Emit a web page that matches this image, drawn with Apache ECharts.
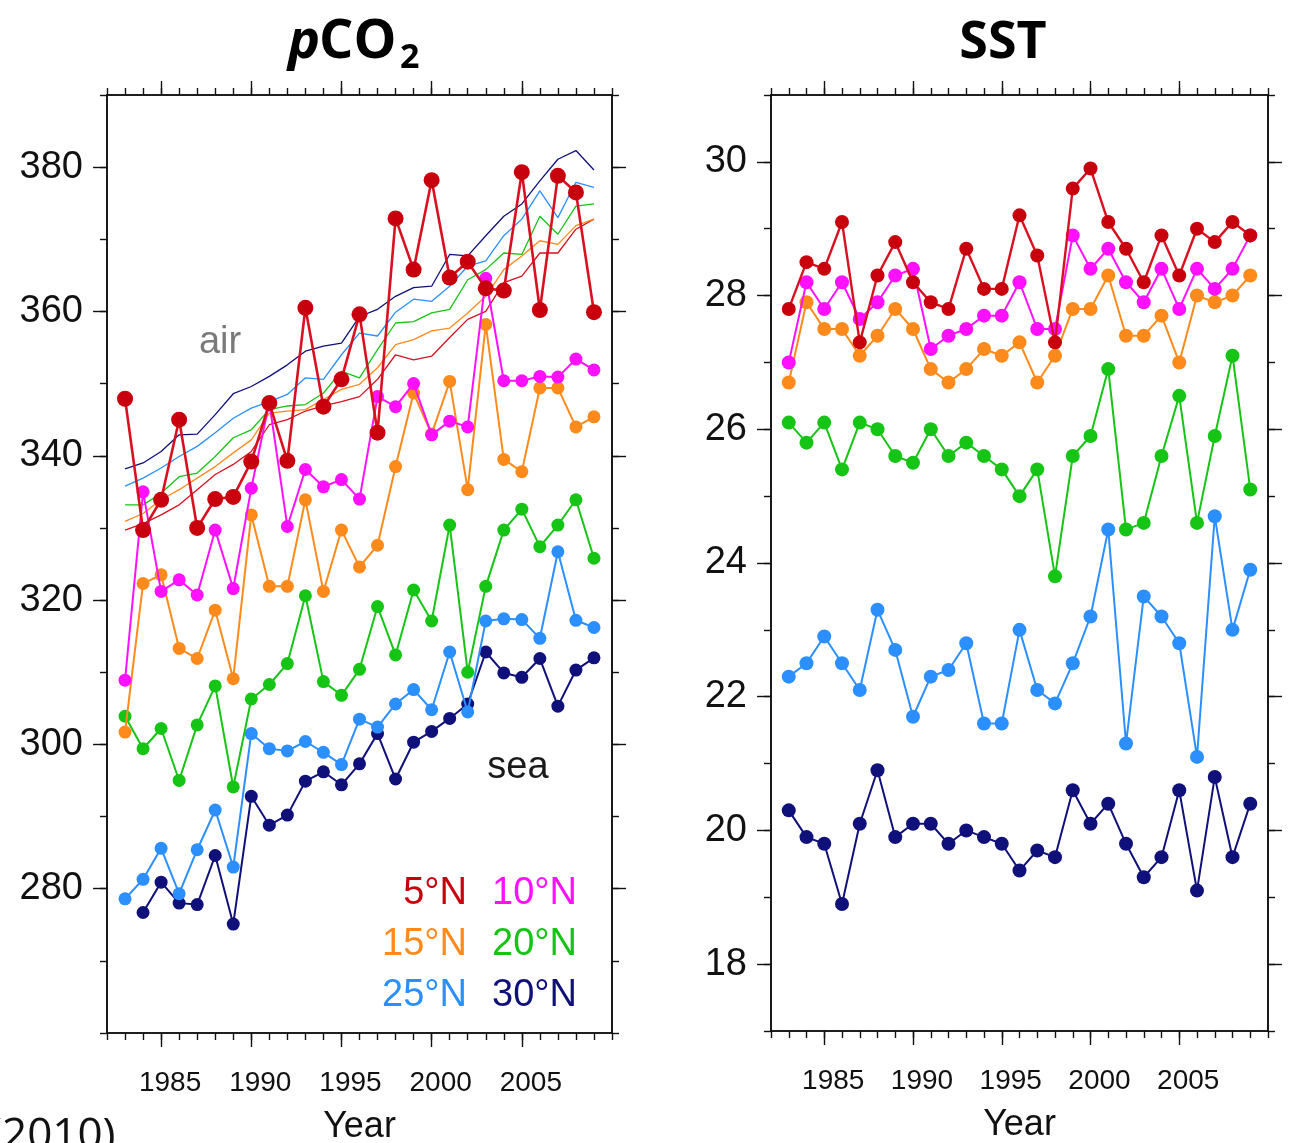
<!DOCTYPE html>
<html>
<head>
<meta charset="utf-8">
<script src="https://cdn.jsdelivr.net/npm/echarts@6/dist/echarts.min.js"></script>
<style>
html,body{margin:0;padding:0;background:#fff;}
#c{width:1292px;height:1143px;}
</style>
</head>
<body>
<div id="c"></div>
<script>
// ---------- data ----------
const years = [1983,1984,1985,1986,1987,1988,1989,1990,1991,1992,1993,1994,1995,1996,1997,1998,1999,2000,2001,2002,2003,2004,2005,2006,2007,2008,2009];
const yearTicks = [1985,1990,1995,2000,2005];
const pco2Ticks = [280,300,320,340,360,380];
const sstTicks = [18,20,22,24,26,28,30];
const siteNames = ['5°N','10°N','15°N','20°N','25°N','30°N'];

// sea pCO2 (µatm)
const sea5  = [347.9,329.7,333.9,345.0,330.0,334.0,334.3,339.2,347.3,339.3,360.5,346.8,350.6,359.6,343.2,372.9,365.8,378.2,364.7,366.9,363.2,362.9,379.3,360.2,378.8,376.5,359.9];
const sea10 = [308.9,335.0,321.2,322.8,320.7,329.7,321.6,335.5,347.4,330.2,338.1,335.7,336.7,334.0,348.2,346.8,350.0,342.9,344.8,344.0,364.6,350.4,350.4,351.0,350.9,353.4,351.9];
const sea15 = [301.7,322.3,323.5,313.3,311.9,318.6,309.1,331.8,321.9,321.9,333.9,321.2,329.7,324.6,327.6,338.5,348.7,343.0,350.3,335.3,358.2,339.5,337.8,349.4,349.4,344.0,345.4];
const sea20 = [303.9,299.4,302.2,295.0,302.7,308.1,294.1,306.3,308.3,311.2,320.6,308.7,306.8,310.4,319.1,312.4,321.4,317.1,330.4,310.0,321.9,329.7,332.6,327.4,330.4,333.9,325.8];
const sea25 = [278.6,281.3,285.6,279.3,285.4,290.9,283.0,301.5,299.4,299.1,300.4,298.9,297.2,303.5,302.4,305.6,307.6,304.8,312.8,304.5,317.1,317.4,317.3,314.7,326.7,317.2,316.2];
const sea30 = [null,276.7,280.9,278.0,277.8,284.6,275.1,292.8,288.8,290.2,294.9,296.2,294.4,297.3,301.5,295.2,300.3,301.8,303.6,305.6,312.8,309.9,309.3,311.9,305.3,310.3,312.0];

// air pCO2 (µatm)
const air30 = [338.2,339.0,340.6,342.9,343.0,345.7,348.6,349.6,351.0,352.6,354.5,355.2,355.6,359.3,360.3,362.1,363.3,363.5,367.9,367.7,370.5,373.2,374.9,378.1,381.1,382.3,379.6];
const air25 = [335.8,336.9,338.3,339.9,341.3,343.2,345.2,346.6,347.5,348.5,350.8,350.6,354.0,357.0,356.6,359.9,361.7,361.4,363.5,366.3,367.0,370.5,372.8,376.7,373.0,377.9,377.2];
const air20 = [333.2,333.2,334.8,337.1,337.6,339.9,342.5,343.6,346.4,346.9,347.1,348.7,351.7,350.8,354.7,358.4,358.6,359.8,360.3,364.4,365.8,368.1,367.9,373.2,370.7,374.6,374.9];
const air15 = [330.9,332.0,333.9,335.3,336.9,338.5,340.4,342.2,345.9,346.2,346.4,347.8,349.2,349.9,352.2,355.4,356.1,357.3,357.7,359.8,362.1,365.8,367.7,369.8,369.3,371.9,372.8];
const air5  = [329.7,330.6,331.8,333.2,335.3,337.4,338.8,340.6,344.3,345.0,346.2,346.9,347.5,348.2,350.6,354.0,353.3,353.8,356.4,358.9,360.0,364.0,364.9,368.1,368.1,371.4,372.8];

// SST (°C)
const sst5  = [27.8,28.5,28.4,29.1,27.3,28.3,28.8,28.2,27.9,27.8,28.7,28.1,28.1,29.2,28.6,27.3,29.6,29.9,29.1,28.7,28.2,28.9,28.3,29.0,28.8,29.1,28.9];
const sst10 = [27.0,28.2,27.8,28.2,27.65,27.9,28.3,28.4,27.2,27.4,27.5,27.7,27.7,28.2,27.5,27.5,28.9,28.4,28.7,28.2,27.9,28.4,27.8,28.4,28.1,28.4,28.9];
const sst15 = [26.7,27.9,27.5,27.5,27.1,27.4,27.8,27.5,26.9,26.7,26.9,27.2,27.1,27.3,26.7,27.1,27.8,27.8,28.3,27.4,27.4,27.7,27.0,28.0,27.9,28.0,28.3];
const sst20 = [26.1,25.8,26.1,25.4,26.1,26.0,25.6,25.5,26.0,25.6,25.8,25.6,25.4,25.0,25.4,23.8,25.6,25.9,26.9,24.5,24.6,25.6,26.5,24.6,25.9,27.1,25.1];
const sst25 = [22.3,22.5,22.9,22.5,22.1,23.3,22.7,21.7,22.3,22.4,22.8,21.6,21.6,23.0,22.1,21.9,22.5,23.2,24.5,21.3,23.5,23.2,22.8,21.1,24.7,23.0,23.9];
const sst30 = [20.3,19.9,19.8,18.9,20.1,20.9,19.9,20.1,20.1,19.8,20.0,19.9,19.8,19.4,19.7,19.6,20.6,20.1,20.4,19.8,19.3,19.6,20.6,19.1,20.8,19.6,20.4];

// ---------- styling ----------
const C = {
  s5: '#c8000e', s5line: '#d81020', s10: '#ff10ff', s15: '#ff8a1c', s20: '#16c416',
  s25: '#2b8fff', s30: '#10107a'
};
const FONT = '"Liberation Sans", Arial, Helvetica, sans-serif';

const grids = [
  {left: 107, top: 95, width: 505, height: 938, outerBoundsMode: 'none', containLabel: false},
  {left: 771, top: 95, width: 497, height: 936, outerBoundsMode: 'none', containLabel: false}
];

function pairs(vals){ return years.map((y,i)=>[y, vals[i]]); }

const xAxes = [], yAxes = [];
function addX(g, pos, major, withLabel){
  const ax = {
    type: 'value', gridIndex: g, position: pos, min: 1982, max: 2010,
    axisLine: {show: true, onZero: false, lineStyle: {color: '#111', width: 1.6}},
    splitLine: {show: false},
    axisTick: {show: true, inside: false, length: major ? 14 : 7, lineStyle: {color: '#111', width: 1.4}},
    axisLabel: {show: false},
    axisPointer: {show: false}
  };
  if (major){
    ax.axisTick.customValues = yearTicks;
    ax.axisLabel = {show: withLabel, customValues: yearTicks, fontFamily: FONT, fontSize: 28,
      color: '#111', margin: 36, padding: [0,0,0,18], formatter: function(v){ return String(v); }};
    if (withLabel){
      ax.name = 'Year'; ax.nameLocation = 'middle'; ax.nameGap = 76;
      ax.nameTextStyle = {fontFamily: FONT, fontSize: 36, color: '#111'};
    }
  } else {
    ax.interval = 1;
  }
  xAxes.push(ax);
  return xAxes.length - 1;
}
function addY(g, pos, major, withLabel, mn, mx, minorInt, ticks){
  const ax = {
    type: 'value', gridIndex: g, position: pos, min: mn, max: mx,
    axisLine: {show: true, onZero: false, lineStyle: {color: '#111', width: 1.6}},
    splitLine: {show: false},
    axisTick: {show: true, inside: false, length: major ? 14 : 7, lineStyle: {color: '#111', width: 1.4}},
    axisLabel: {show: false},
    axisPointer: {show: false}
  };
  if (major){
    ax.axisTick.customValues = ticks;
    ax.axisLabel = {show: withLabel, customValues: ticks, fontFamily: FONT, fontSize: 38, color: '#111', margin: 24};
  } else {
    ax.interval = minorInt;
  }
  yAxes.push(ax);
  return yAxes.length - 1;
}

// left grid axes
const xL = addX(0, 'bottom', true, true);
addX(0, 'bottom', false); addX(0, 'top', true, false); addX(0, 'top', false);
const yL = addY(0, 'left', true, true, 260, 390, 10, pco2Ticks);
addY(0, 'left', false, false, 260, 390, 10); addY(0, 'right', true, false, 260, 390, 10, pco2Ticks); addY(0, 'right', false, false, 260, 390, 10);
// right grid axes
const xR = addX(1, 'bottom', true, true);
addX(1, 'bottom', false); addX(1, 'top', true, false); addX(1, 'top', false);
const yR = addY(1, 'left', true, true, 17, 31, 1, sstTicks);
addY(1, 'left', false, false, 17, 31, 1); addY(1, 'right', true, false, 17, 31, 1, sstTicks); addY(1, 'right', false, false, 17, 31, 1);

function airLine(name, vals, color){
  return {type: 'line', name: name, xAxisIndex: xL, yAxisIndex: yL, data: pairs(vals),
    showSymbol: false, symbol: 'none', lineStyle: {color: color, width: 1.3}, z: 2, silent: true, animation: false};
}
function seaLine(name, vals, color, lineColor, xi, yi, size, w, z){
  return {type: 'line', name: name, xAxisIndex: xi, yAxisIndex: yi, data: pairs(vals),
    symbol: 'circle', symbolSize: size, showSymbol: true, connectNulls: false,
    itemStyle: {color: color, borderWidth: 0}, lineStyle: {color: lineColor || color, width: w},
    z: z, animation: false, silent: true};
}

const series = [
  airLine('air 5°N', air5, C.s5line),
  airLine('air 15°N', air15, C.s15),
  airLine('air 20°N', air20, C.s20),
  airLine('air 25°N', air25, C.s25),
  airLine('air 30°N', air30, C.s30),
  seaLine('30°N', sea30, C.s30, null, xL, yL, 13, 2, 3),
  seaLine('25°N', sea25, C.s25, null, xL, yL, 13, 2, 4),
  seaLine('20°N', sea20, C.s20, null, xL, yL, 13, 2, 5),
  seaLine('15°N', sea15, C.s15, null, xL, yL, 13, 2, 6),
  seaLine('10°N', sea10, C.s10, null, xL, yL, 13, 2, 7),
  seaLine('5°N', sea5, C.s5, C.s5line, xL, yL, 16, 2.6, 8),
  seaLine('SST 30°N', sst30, C.s30, null, xR, yR, 14, 2, 3),
  seaLine('SST 25°N', sst25, C.s25, null, xR, yR, 14, 2, 4),
  seaLine('SST 20°N', sst20, C.s20, null, xR, yR, 14, 2, 5),
  seaLine('SST 15°N', sst15, C.s15, null, xR, yR, 14, 2, 6),
  seaLine('SST 10°N', sst10, C.s10, null, xR, yR, 14, 2, 7),
  seaLine('SST 5°N', sst5, C.s5, C.s5line, xR, yR, 14, 2.4, 8)
];

const TFONT = '"Open Sans", "Noto Sans", sans-serif';
function txt(x, y, s, opt){
  return Object.assign({type: 'text', x: x, y: y, z: 20, silent: true,
    style: Object.assign({text: s, fontFamily: FONT, fontSize: 38, fill: '#111', align: 'left', verticalAlign: 'middle'}, opt || {})});
}
const legendColors = [C.s5, C.s10, C.s15, C.s20, C.s25, C.s30];
const graphics = [
  // titles
  txt(288, 43, 'p', {fontFamily: TFONT, fontWeight: 'bold', fontStyle: 'italic', fontSize: 54, fill: '#000'}),
  txt(319, 43, 'CO', {fontFamily: TFONT, fontWeight: 'bold', fontSize: 54, fill: '#000'}),
  txt(400, 58, '2', {fontFamily: TFONT, fontWeight: 'bold', fontSize: 34, fill: '#000'}),
  txt(1003, 43, 'SST', {fontFamily: TFONT, fontWeight: 'bold', fontSize: 52, fill: '#000', align: 'center'}),
  // annotations
  txt(220, 343, 'air', {fill: '#7a7a7a', align: 'center'}),
  txt(518, 768, 'sea', {fill: '#1a1a1a', align: 'center'}),
  txt(-11, 1136, '(2010)', {fontFamily: TFONT, fontSize: 44, fill: '#111'})
];
// legend text (two columns, three rows)
for (let i = 0; i < siteNames.length; i++){
  const row = Math.floor(i / 2), col = i % 2;
  graphics.push(txt(col === 0 ? 467 : 492, 894 + row * 51, siteNames[i],
    {fill: legendColors[i], align: col === 0 ? 'right' : 'left', fontSize: 38}));
}

const chart = echarts.init(document.getElementById('c'), null, {renderer: 'canvas'});
chart.setOption({
  backgroundColor: '#ffffff',
  animation: false,
  grid: grids,
  xAxis: xAxes,
  yAxis: yAxes,
  series: series,
  graphic: graphics
});
</script>
</body>
</html>
